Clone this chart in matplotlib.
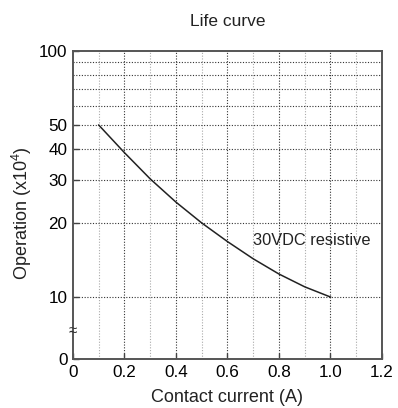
import matplotlib
matplotlib.use('Agg')
import matplotlib.pyplot as plt
import numpy as np

plt.rcParams['font.family'] = ['Liberation Sans', 'DejaVu Sans']
plt.rcParams['mathtext.fontset'] = 'custom'
plt.rcParams['mathtext.rm'] = 'Liberation Sans'

# curve
current = [0.1, 0.2, 0.3, 0.4, 0.5, 0.6, 0.7, 0.8, 0.9, 1.0]
operations = [50, 38.6, 30.2, 24.3, 20.0, 16.8, 14.3, 12.4, 11.0, 10]

x_ticks = [0, 0.2, 0.4, 0.6, 0.8, 1.0, 1.2]
x_labels = ['0', '0.2', '0.4', '0.6', '0.8', '1.0', '1.2']
y_ticks = [0, 10, 20, 30, 40, 50, 100]
y_minor = [60, 70, 80, 90]

# log scale above 10, short linear stub below it (broken axis)
LO = 1 - 62 / 246


def fwd(y):
    y = np.asarray(y, dtype=float)
    return np.where(y >= 10, np.log10(np.maximum(y, 1e-9)), LO + y / 10 * (1 - LO))


def inv(t):
    t = np.asarray(t, dtype=float)
    return np.where(t >= 1, 10 ** t, (t - LO) / (1 - LO) * 10)


fig = plt.figure(figsize=(3.98, 4.08), dpi=100)
ax = fig.add_axes([0.1834, 0.120, 0.7764, 0.755])
ax.set_yscale('function', functions=(fwd, inv))
ax.set_xlim(0, 1.2)
ax.set_ylim(0, 100)

ax.set_xticks(x_ticks)
ax.set_xticklabels(x_labels)
ax.set_xticks(np.arange(0.1, 1.2, 0.2), minor=True)
ax.set_yticks(y_ticks)
ax.set_yticklabels([str(v) for v in y_ticks])
ax.set_yticks(y_minor, minor=True)
ax.yaxis.set_minor_formatter(plt.NullFormatter())

ax.tick_params(which='major', direction='in', length=4, width=1, color='#444444',
               labelsize=12.3, pad=4)
ax.tick_params(which='minor', length=0)

# grid
for v in x_ticks[1:-1]:
    ax.axvline(v, color='#333333', lw=0.8, ls=(0, (1, 1.5)), zorder=1)
for v in np.arange(0.1, 1.2, 0.2):
    ax.axvline(v, color='#aaaaaa', lw=0.8, ls=(0, (1, 1.5)), zorder=1)
for v in y_ticks[1:-1] + y_minor:
    ax.axhline(v, color='#333333', lw=0.8, ls=(0, (1, 1.5)), zorder=1)

ax.plot(current, operations, color='#222222', lw=1.1, zorder=3)

ax.text(0.70, 16.9, '30VDC resistive', fontsize=11.8, ha='left', va='center',
        color='#222222')
ax.text(0, 4.6, '≈', fontsize=11, ha='center', va='center',
        color='#333333', clip_on=False, zorder=5)

for s in ax.spines.values():
    s.set_color('#555555')
    s.set_linewidth(1.4)

ax.set_title('Life curve', fontsize=12.5, pad=18, color='#222222')
ax.set_xlabel('Contact current (A)', fontsize=13, color='#222222')
ax.set_ylabel(r'Operation (x10$^{\mathrm{4}}$)', fontsize=13, color='#222222')
ax.xaxis.set_label_coords(0.5, -0.097)
ax.yaxis.set_label_coords(-0.126, 0.474)

fig.savefig('out.png', dpi=100)
